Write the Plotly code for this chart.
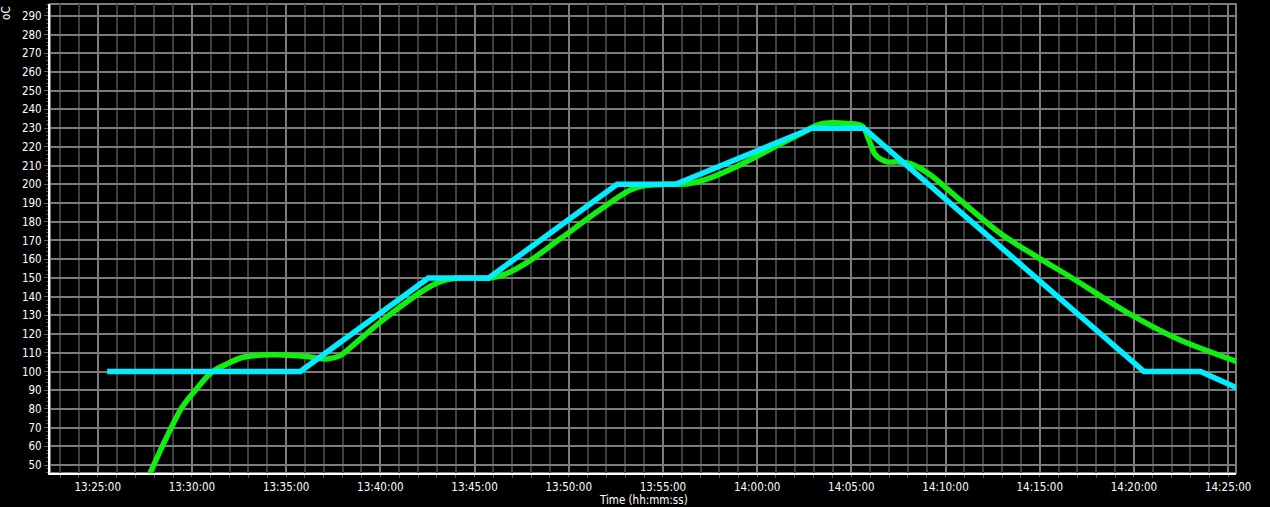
import plotly.graph_objects as go

DAY = "2024-01-01 "

# Setpoint (cyan)
sp_times = ["13:25:30", "13:35:45", "13:42:33", "13:45:45", "13:52:34", "13:55:40",
            "14:02:55", "14:05:40", "14:20:32", "14:23:32", "14:25:40"]
sp_values = [100, 100, 150, 150, 200, 200, 230, 230, 100, 100, 90.4]

# Measured temperature (green)
pv_times = ["13:27:34", "13:27:47", "13:28:34", "13:29:28", "13:30:10", "13:31:03",
            "13:31:51", "13:32:43", "13:34:19", "13:36:06", "13:37:10", "13:37:52",
            "13:38:40", "13:40:00", "13:42:23", "13:43:11", "13:43:59", "13:45:50",
            "13:46:38", "13:47:58", "13:49:34", "13:51:41", "13:53:16", "13:54:04",
            "13:55:08", "13:56:21", "13:57:15", "13:59:07", "14:01:14", "14:02:18",
            "14:02:56", "14:03:30", "14:04:47", "14:05:34", "14:05:56", "14:06:17",
            "14:06:54", "14:07:26", "14:08:08", "14:09:12", "14:10:16", "14:12:55",
            "14:14:46", "14:16:38", "14:19:39", "14:22:18", "14:25:28"]
pv_values = [41, 45.8, 63, 80.8, 89.8, 99.6,
             104, 107.6, 108.9, 108, 106.7, 108.5,
             115, 126.4, 143.9, 148, 149.8, 150,
             152, 159.4, 171, 186.5, 196.9, 199.3,
             200, 200.3, 202.5, 210.5, 221.5, 227,
             230.5, 232.5, 232.5, 231.2, 223.7, 215.7,
             212, 212, 211, 205, 196, 173.7,
             161.8, 150.5, 131.5, 117.5, 105.3]

x_range = ["13:22:28", "14:25:25"]
y_range = [45.8, 296.3]

FONT = "DejaVu Sans Condensed, Liberation Sans Narrow, sans-serif"

fig = go.Figure()
fig.add_trace(go.Scatter(
    x=[DAY + t for t in pv_times], y=pv_values, mode="lines",
    line=dict(color="#11ee11", width=5.5, shape="spline", smoothing=0.9),
    hoverinfo="skip", showlegend=False))
fig.add_trace(go.Scatter(
    x=[DAY + t for t in sp_times], y=sp_values, mode="lines",
    line=dict(color="#00eeff", width=5.5),
    hoverinfo="skip", showlegend=False))

fig.update_layout(
    width=1270, height=507,
    margin=dict(l=50, r=34, t=4, b=34, autoexpand=False),
    paper_bgcolor="black", plot_bgcolor="black",
    font=dict(family=FONT, size=11.5, color="white"),
    xaxis=dict(
        type="date", range=[DAY + x_range[0], DAY + x_range[1]],
        tick0=DAY + "13:25:00", dtick=300000, tickformat="%H:%M:%S",
        showgrid=True, gridcolor="#7c7c7c", gridwidth=1.5,
        showline=True, linecolor="white", linewidth=2,
        ticks="outside", ticklen=2, tickcolor="#666666", tickwidth=1,
        minor=dict(dtick=60000, tick0=DAY + "13:25:00", showgrid=True,
                   gridcolor="#3e3e3e", gridwidth=1.5,
                   ticks="outside", ticklen=3, tickcolor="#555555"),
        zeroline=False, automargin=False,
        tickfont=dict(family=FONT, size=11.5, color="white"),
        fixedrange=True,
    ),
    yaxis=dict(
        range=y_range, tick0=0, dtick=10,
        showgrid=True, gridcolor="#7c7c7c", gridwidth=1.5,
        showline=True, linecolor="white", linewidth=2,
        ticks="outside", ticklen=4, tickcolor="#666666",
        minor=dict(dtick=2, ticks="outside", ticklen=2, tickcolor="#555555", showgrid=False),
        zeroline=False, automargin=False,
        tickfont=dict(family=FONT, size=11.5, color="white"),
        fixedrange=True,
    ),
    shapes=[dict(type="rect", xref="paper", yref="paper", x0=0, x1=1, y0=0, y1=1,
                 line=dict(color="#7c7c7c", width=2), layer="below")],
    annotations=[
        dict(text="oC", xref="paper", yref="paper", x=-0.0371, y=0.981,
             xanchor="center", yanchor="middle", textangle=-90, showarrow=False,
             font=dict(family=FONT, size=11.5, color="white")),
        dict(text="Time (hh:mm:ss)", xref="paper", yref="paper", x=0.5, y=-0.0575,
             xanchor="center", yanchor="middle", showarrow=False,
             font=dict(family=FONT, size=11.5, color="white")),
    ],
)

fig.write_html("out.html", config={"displayModeBar": False},
               post_script="document.body.style.margin='0';document.body.style.overflow='hidden';")
